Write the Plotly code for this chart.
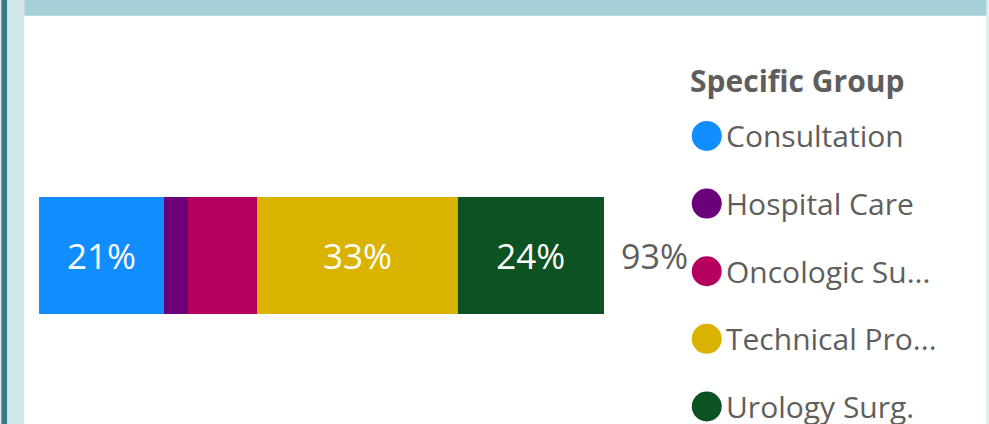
import plotly.graph_objects as go

# values (share of total, %)
groups = ["Consultation", "Hospital Care", "Oncologic Surgery", "Technical Procedures", "Urology Surg."]
legend_labels = ["Consultation", "Hospital Care", "Oncologic Su...", "Technical Pro...", "Urology Surg."]
shares = [20.6, 3.9, 11.4, 33.1, 24.0]
colors = ["#118DFF", "#6B007B", "#B5005E", "#D9B300", "#0C5223"]
legend_title = "Specific Group"

FONT = "Segoe UI, Open Sans, sans-serif"
GRAY = "#605E5C"

W, H = 989, 424
# plot area in pixels
L, R = 38.7, 646.2
T, B = 158.0, 352.6


def px_x(px):
    return (px - L) / (R - L)


def px_y(py):
    return (B - py) / (B - T)


fig = go.Figure()
for name, v, c in zip(groups, shares, colors):
    fig.add_trace(go.Bar(
        x=[v], y=["all"], orientation="h", name=name,
        marker=dict(color=c, line=dict(width=0)),
        text=[f"{v:.0f}%" if v >= 20 else ""],
        textposition="inside", insidetextanchor="middle",
        textfont=dict(family=FONT, size=35, color="white"),
        width=0.6, showlegend=False,
        hovertemplate=name + ": %{x:.1f}%<extra></extra>",
    ))

total = sum(shares)
annotations = [dict(
    x=total, y="all", xref="x", yref="y", text=f"{total:.0f}%",
    showarrow=False, xanchor="left", xshift=15,
    font=dict(family=FONT, size=34, color=GRAY),
)]

# legend drawn by hand so the markers can be large circles
annotations.append(dict(
    x=px_x(688), y=px_y(81), xref="paper", yref="paper", text="<b>" + legend_title + "</b>",
    showarrow=False, xanchor="left", yanchor="middle",
    font=dict(family=FONT, size=30, color=GRAY),
))
shapes = []
row0, step = 136, 67.5
for i, (lab, c) in enumerate(zip(legend_labels, colors)):
    cy = row0 + i * step
    shapes.append(dict(
        type="circle", xref="paper", yref="paper",
        xsizemode="pixel", ysizemode="pixel",
        xanchor=px_x(707), yanchor=px_y(cy),
        x0=-15, x1=15, y0=-15, y1=15,
        fillcolor=c, line=dict(width=0),
    ))
    annotations.append(dict(
        x=px_x(724), y=px_y(cy), xref="paper", yref="paper", text=lab,
        showarrow=False, xanchor="left", yanchor="middle",
        font=dict(family=FONT, size=30, color=GRAY),
    ))

# panel frame: header band and side borders
frame = [
    (0, 0, 1, H, "#CFE6E9"),
    (1, 0, 7, H, "#3B7A80"),
    (7, 0, 24, H, "#D0E7EA"),
    (24, 0, 987, 16, "#A6D0D8"),
    (987, 0, W, H, "#D0E7EA"),
]
for x0, y0, x1, y1, c in frame:
    shapes.append(dict(
        type="rect", xref="paper", yref="paper",
        x0=px_x(x0), x1=px_x(x1), y0=px_y(y1), y1=px_y(y0),
        fillcolor=c, line=dict(width=0), layer="below",
    ))

fig.update_layout(
    barmode="stack",
    width=W, height=H,
    margin=dict(l=L, r=W - R, t=T, b=H - B, pad=0),
    paper_bgcolor="white", plot_bgcolor="white",
    xaxis=dict(range=[0, 100], visible=False, fixedrange=True),
    yaxis=dict(range=[-0.5, 0.5], visible=False, fixedrange=True),
    uniformtext=dict(mode="hide", minsize=20),
    annotations=annotations, shapes=shapes,
    showlegend=False,
)

fig.write_html(
    "out.html",
    config=dict(displayModeBar=False),
    post_script="document.body.style.margin='0';document.body.style.overflow='hidden';",
)
